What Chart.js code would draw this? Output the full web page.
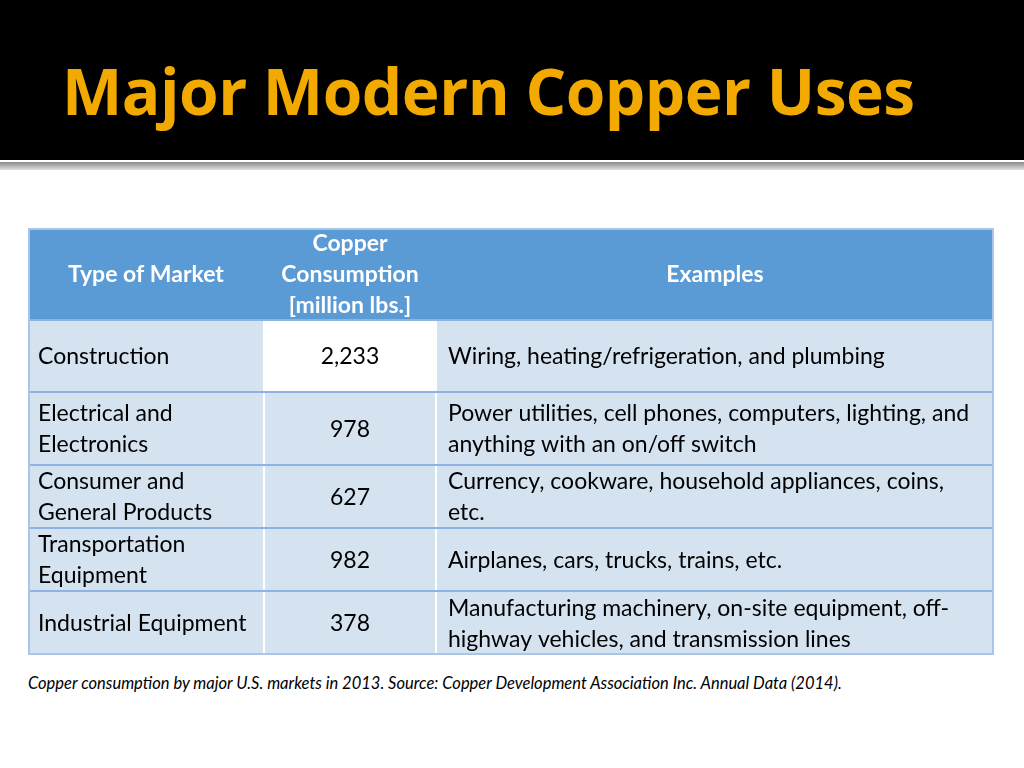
<!DOCTYPE html>
<html>
<head>
<meta charset="utf-8">
<script src="https://cdn.jsdelivr.net/npm/chart.js@4"></script>
<style>
  body { margin: 0; width: 1024px; height: 768px; background: #fff; position: relative; overflow: hidden; font-family: Lato, sans-serif; }
  #band { position: absolute; left: 0; top: 0; width: 1024px; height: 160px; background: #000; }
  #band h1 { margin: 0; position: absolute; left: 62px; top: 47px; font: bold 64px "Open Sans", sans-serif; color: #f2aa00; letter-spacing: -0.5px; }
  #rule { position: absolute; left: 0; top: 162px; width: 1024px; height: 8px; background: linear-gradient(#8a8a8a, #e0e0e0); }
  #wrap { position: absolute; left: 28px; top: 228px; width: 966px; height: 427px; }
  #caption { position: absolute; left: 28px; top: 673px; font: italic 16.5px Lato, sans-serif; color: #000; }
</style>
</head>
<body>
<div id="band"><h1>Major Modern Copper Uses</h1></div>
<div id="rule"></div>
<div id="wrap"><canvas id="tbl"></canvas></div>
<div id="caption">Copper consumption by major U.S. markets in 2013. Source: Copper Development Association Inc. Annual Data (2014).</div>
<script>
// table content
var headers = [['Type of Market'], ['Copper', 'Consumption', '[million lbs.]'], ['Examples']];
var markets = [['Construction'], ['Electrical and', 'Electronics'], ['Consumer and', 'General Products'], ['Transportation', 'Equipment'], ['Industrial Equipment']];
var consumption = [2233, 978, 627, 982, 378];
var examples = [
    ['Wiring, heating/refrigeration, and plumbing'],
    ['Power utilities, cell phones, computers, lighting, and', 'anything with an on/off switch'],
    ['Currency, cookware, household appliances, coins,', 'etc.'],
    ['Airplanes, cars, trucks, trains, etc.'],
    ['Manufacturing machinery, on-site equipment, off-', 'highway vehicles, and transmission lines']
];
// layout (in scale units)
var colEdges = [0, 236, 408, 966];
var rowEdges = [0, 92, 164, 237, 300, 363, 427];

var tablePlugin = {
    id: 'tablePlugin',
    beforeDatasetsDraw: function (chart) {
        var ctx = chart.ctx, xs = chart.scales.x, ys = chart.scales.y;
        var X = function (v) { return xs.getPixelForValue(v); };
        var Y = function (v) { return ys.getPixelForValue(v); };
        ctx.save();
        for (var r = 0; r < rowEdges.length - 1; r++) {
            for (var c = 0; c < 3; c++) {
                var x0 = X(colEdges[c]), x1 = X(colEdges[c + 1]);
                var y0 = Y(rowEdges[r]), y1 = Y(rowEdges[r + 1]);
                ctx.fillStyle = r === 0 ? '#5b9bd5' : (r === 1 && c === 1 ? '#ffffff' : '#d5e3f1');
                ctx.fillRect(x0, y0, x1 - x0, y1 - y0);
                var lines;
                if (r === 0) lines = headers[c];
                else if (c === 0) lines = markets[r - 1];
                else if (c === 1) lines = [consumption[r - 1].toLocaleString('en-US')];
                else lines = examples[r - 1];
                ctx.font = (r === 0 ? 'bold ' : '') + '23px Lato, sans-serif';
                ctx.fillStyle = r === 0 ? '#ffffff' : '#000000';
                ctx.textBaseline = 'middle';
                var tx;
                if (r === 0 || c === 1) { ctx.textAlign = 'center'; tx = (x0 + x1) / 2; }
                else { ctx.textAlign = 'left'; tx = x0 + (c === 0 ? 10 : 12); }
                var lh = 31, cy = (y0 + y1) / 2 + 1 - (lines.length - 1) * lh / 2;
                lines.forEach(function (t, i) { ctx.fillText(t, tx, cy + i * lh); });
            }
        }
        // column separators (white)
        ctx.strokeStyle = '#ffffff'; ctx.lineWidth = 2;
        [1, 2].forEach(function (c) {
            ctx.beginPath(); ctx.moveTo(X(colEdges[c]), Y(rowEdges[1])); ctx.lineTo(X(colEdges[c]), Y(rowEdges[6])); ctx.stroke();
        });
        // row separators (blue)
        ctx.strokeStyle = '#8db3e2';
        for (var i = 1; i < rowEdges.length - 1; i++) {
            ctx.beginPath(); ctx.moveTo(X(0), Y(rowEdges[i])); ctx.lineTo(X(966), Y(rowEdges[i])); ctx.stroke();
        }
        ctx.strokeStyle = '#a9c6e8'; ctx.lineWidth = 2;
        ctx.strokeRect(X(0) + 1, Y(0) + 1, X(966) - X(0) - 2, Y(427) - Y(0) - 2);
        ctx.restore();
    }
};

new Chart(document.getElementById('tbl').getContext('2d'), {
    type: 'scatter',
    data: { datasets: [{ data: [] }] },
    options: {
        responsive: true,
        maintainAspectRatio: false,
        animation: false,
        layout: { padding: 0 },
        plugins: { legend: { display: false }, tooltip: { enabled: false } },
        scales: {
            x: { type: 'linear', min: 0, max: 966, display: false },
            y: { type: 'linear', min: 0, max: 427, reverse: true, display: false }
        }
    },
    plugins: [tablePlugin]
});
</script>
</body>
</html>
